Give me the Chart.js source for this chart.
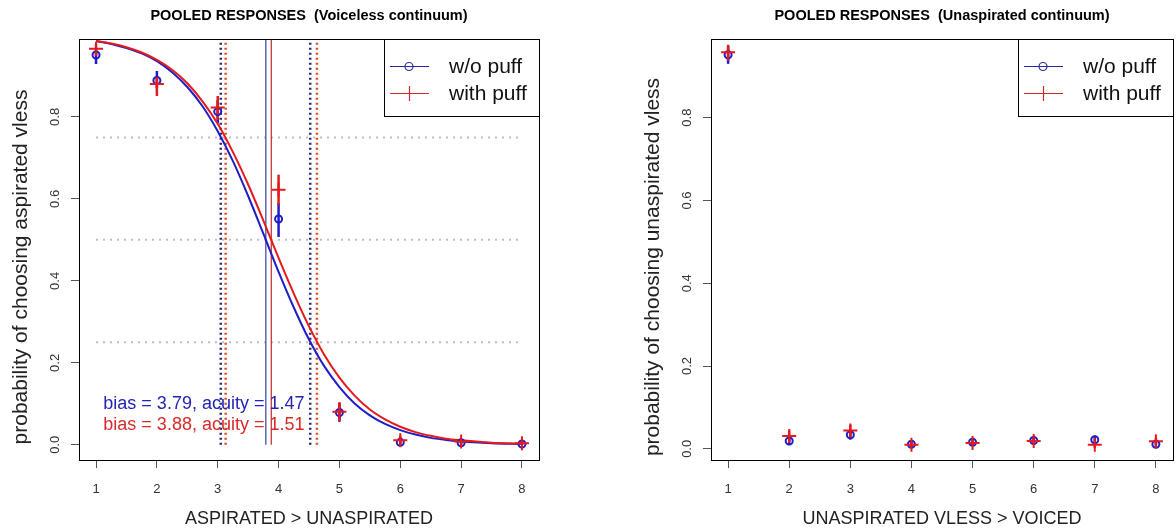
<!DOCTYPE html>
<html>
<head>
<meta charset="utf-8">
<script src="https://cdn.jsdelivr.net/npm/chart.js@4.4.1/dist/chart.umd.min.js"></script>
<style>
  html, body { margin: 0; padding: 0; background: #fff; overflow: hidden; }
  .panel { position: absolute; top: 0; height: 531px; overflow: hidden; }
  #p1 { left: 0; width: 588px; }
  #p2 { left: 588px; width: 588px; }
</style>
</head>
<body>
<div class="panel" id="p1"><canvas id="c1" width="588" height="531"></canvas></div>
<div class="panel" id="p2"><canvas id="c2" width="610" height="531"></canvas></div>
<script>
const STEPS = [1, 2, 3, 4, 5, 6, 7, 8]
const SERIES = ['w/o puff', 'with puff']

// left panel: voiceless continuum
const vlBlue = [0.951, 0.889, 0.813, 0.551, 0.079, 0.006, 0.005, 0.002]
const vlBlueLo = [0.929, 0.870, 0.785, 0.507, 0.056, 0.000, 0.000, 0.000]
const vlBlueHi = [0.968, 0.912, 0.841, 0.590, 0.102, 0.014, 0.011, 0.006]
const vlRed = [0.966, 0.880, 0.823, 0.622, 0.081, 0.011, 0.008, 0.004]
const vlRedLo = [0.949, 0.851, 0.793, 0.585, 0.058, 0.002, 0.002, 0.000]
const vlRedHi = [0.978, 0.895, 0.851, 0.659, 0.104, 0.022, 0.015, 0.010]

// fitted curves
const curveX = [1, 1.25, 1.5, 1.75, 2, 2.25, 2.5, 2.75, 3, 3.25, 3.5, 3.75, 4, 4.25, 4.5, 4.75, 5, 5.25, 5.5, 5.75, 6, 6.25, 6.5, 6.75, 7, 7.5, 8]
const curveBlue = [0.985, 0.978, 0.968, 0.955, 0.936, 0.909, 0.873, 0.826, 0.765, 0.692, 0.607, 0.515, 0.422, 0.335, 0.257, 0.192, 0.141, 0.101, 0.072, 0.051, 0.036, 0.025, 0.017, 0.012, 0.008, 0.004, 0.002]
const curveRed = [0.985, 0.979, 0.970, 0.957, 0.939, 0.915, 0.882, 0.838, 0.783, 0.714, 0.635, 0.547, 0.456, 0.369, 0.289, 0.220, 0.164, 0.120, 0.086, 0.062, 0.044, 0.031, 0.022, 0.015, 0.011, 0.005, 0.003]

const bias = [3.79, 3.88]
const acuity = [1.47, 1.51]
const cutsBlue = [3.05, 4.52]
const cutsRed = [3.13, 4.63]
const refLevels = [0.25, 0.5, 0.75]

// right panel: unaspirated continuum
const unBlue = [0.952, 0.019, 0.034, 0.011, 0.016, 0.020, 0.022, 0.011]
const unBlueLo = [0.930, 0.009, 0.022, 0.005, 0.009, 0.012, 0.012, 0.005]
const unBlueHi = [0.972, 0.029, 0.046, 0.017, 0.023, 0.028, 0.032, 0.017]
const unRed = [0.958, 0.031, 0.044, 0.010, 0.014, 0.019, 0.010, 0.018]
const unRedLo = [0.938, 0.018, 0.030, 0.004, 0.007, 0.011, 0.002, 0.010]
const unRedHi = [0.976, 0.044, 0.058, 0.016, 0.021, 0.027, 0.018, 0.026]

const Y_TICKS = [0, 0.2, 0.4, 0.6, 0.8]

const BLUE = '#1e1ec8'
const RED = '#e41a1c'
const FONT = 'Arial, "Liberation Sans", sans-serif'

const pts = (xs, ys) => xs.map((x, i) => ({ x, y: ys[i] }))

function vline(x, color, width, dash) {
	return { data: [{ x, y: 0 }, { x, y: 1.2 }], borderColor: color, borderWidth: width, borderDash: dash, pointRadius: 0, order: 5 }
}

const panelPlugin = {
	id: 'panel',
	beforeDatasetsDraw(chart) {
		const { ctx, scales: { x, y } } = chart
		const p = chart.options.plugins.panel
		ctx.save()
		ctx.lineWidth = 2.5
		p.bars.forEach(({ lo, hi, color }) => {
			ctx.strokeStyle = color
			STEPS.forEach((s, i) => {
				ctx.beginPath()
				ctx.moveTo(x.getPixelForValue(s), y.getPixelForValue(lo[i]))
				ctx.lineTo(x.getPixelForValue(s), y.getPixelForValue(hi[i]))
				ctx.stroke()
			})
		})
		ctx.restore()
	},
	afterDatasetsDraw(chart) {
		const { ctx, chartArea: a, scales: { x, y } } = chart
		const p = chart.options.plugins.panel
		ctx.save()
		// box
		ctx.strokeStyle = '#000'
		ctx.lineWidth = 1
		ctx.strokeRect(a.left + 0.5, a.top + 0.5, a.right - a.left, a.bottom - a.top)

		// annotations
		ctx.font = `18px ${FONT}`
		ctx.textBaseline = 'middle'
		ctx.textAlign = 'left'
		;(p.notes || []).forEach(n => {
			ctx.fillStyle = n.color
			ctx.fillText(n.text, x.getPixelForValue(n.x), y.getPixelForValue(n.y))
		})

		// legend
		const w = 155, h = 77
		const lx = a.right - w, ly = a.top
		ctx.fillStyle = '#fff'
		ctx.fillRect(lx, ly, w, h)
		ctx.strokeStyle = '#000'
		ctx.strokeRect(lx + 0.5, ly + 0.5, w, h)
		const legendCols = ['#2a2aa0', '#d02830']
		SERIES.forEach((name, i) => {
			const yy = ly + 27 + i * 27
			ctx.strokeStyle = legendCols[i]
			ctx.lineWidth = 1.2
			ctx.beginPath()
			ctx.moveTo(lx + 6, yy + 0.5)
			ctx.lineTo(lx + 45, yy + 0.5)
			ctx.stroke()
			ctx.beginPath()
			if (i === 0) {
				ctx.arc(lx + 25, yy + 0.5, 4, 0, Math.PI * 2)
			} else {
				ctx.moveTo(lx + 25.5, yy - 7)
				ctx.lineTo(lx + 25.5, yy + 8)
			}
			ctx.stroke()
			ctx.fillStyle = '#111'
			ctx.font = `21px ${FONT}`
			ctx.textBaseline = 'middle'
			ctx.fillText(name, lx + 65, yy + 1)
		})

		// title
		const cx = (a.left + a.right) / 2
		ctx.fillStyle = '#000'
		ctx.textAlign = 'center'
		ctx.font = `bold 14.5px ${FONT}`
		ctx.fillText(p.title, cx, 16)

		// axis titles
		ctx.fillStyle = '#222'
		ctx.font = `18px ${FONT}`
		ctx.fillText(p.xTitle, cx, 519)

		ctx.save()
		ctx.translate(a.left - 58, 267)
		ctx.rotate(-Math.PI / 2)
		ctx.font = `21px ${FONT}`
		ctx.fillText(p.yTitle, 0, 0)
		ctx.restore()

		// rotated y tick labels
		ctx.fillStyle = '#333'
		ctx.font = `13px ${FONT}`
		Y_TICKS.forEach(t => {
			ctx.save()
			ctx.translate(a.left - 24, y.getPixelForValue(t))
			ctx.rotate(-Math.PI / 2)
			ctx.fillText(t.toFixed(1), 0, 0)
			ctx.restore()
		})
		ctx.restore()
	}
}

function makePanel(id, cfg) {
	const datasets = [
		...cfg.extra,
		{ label: SERIES[0], data: pts(STEPS, cfg.blue), showLine: false, pointStyle: 'circle', pointRadius: 3.5, pointBorderWidth: 2, pointBorderColor: BLUE, pointBackgroundColor: 'rgba(0,0,0,0)', order: 1 },
		{ label: SERIES[1], data: pts(STEPS, cfg.red), showLine: false, pointStyle: 'cross', pointRadius: 7, pointBorderWidth: 2, pointBorderColor: RED, order: 0 }
	]
	const axisGrid = { display: true, drawOnChartArea: false, drawTicks: true, tickLength: 8, color: '#555' }
	return new Chart(document.getElementById(id), {
		type: 'line',
		data: { datasets },
		options: {
			responsive: false,
			animation: false,
			devicePixelRatio: 1,
			layout: { padding: { left: 0, right: cfg.padRight, top: 39, bottom: 0 } },
			scales: {
				x: {
					type: 'linear', min: 0.72, max: 8.28,
					border: { display: false },
					grid: axisGrid,
					ticks: { stepSize: 1, includeBounds: false, color: '#333', font: { size: 13, family: FONT }, padding: 14, maxRotation: 0 },
					afterFit: s => { s.height = 71 }
				},
				y: {
					type: 'linear', min: cfg.yMin, max: 0.99,
					border: { display: false },
					grid: axisGrid,
					ticks: { stepSize: 0.2, includeBounds: false, color: 'rgba(0,0,0,0)', font: { size: 13 } },
					afterFit: s => { s.width = cfg.yWidth }
				}
			},
			plugins: {
				legend: { display: false },
				tooltip: { enabled: false },
				panel: cfg.panel
			}
		},
		plugins: [panelPlugin]
	})
}

const leftExtra = [
	{ data: pts(curveX, curveBlue), borderColor: BLUE, borderWidth: 2, pointRadius: 0, cubicInterpolationMode: 'monotone', order: 3 },
	{ data: pts(curveX, curveRed), borderColor: RED, borderWidth: 2, pointRadius: 0, cubicInterpolationMode: 'monotone', order: 2 },
	...refLevels.map(v => ({ data: [{ x: 1, y: v }, { x: 8, y: v }], borderColor: '#bdbdbd', borderWidth: 2, borderDash: [2, 5], pointRadius: 0, order: 9 })),
	...cutsBlue.map(c => vline(c, '#26267a', 2.5, [2, 3])),
	...cutsRed.map(c => vline(c, '#d8502a', 2.5, [2, 3])),
	vline(bias[0], '#5868b0', 1.5, []),
	vline(bias[1], '#c02828', 1.2, [])
]

makePanel('c1', {
	blue: vlBlue, red: vlRed, extra: leftExtra,
	yMin: -0.037, yWidth: 79, padRight: 49,
	panel: {
		title: 'POOLED RESPONSES  (Voiceless continuum)',
		xTitle: 'ASPIRATED > UNASPIRATED',
		yTitle: 'probability of choosing aspirated vless',
		bars: [
			{ lo: vlBlueLo, hi: vlBlueHi, color: BLUE },
			{ lo: vlRedLo, hi: vlRedHi, color: RED }
		],
		notes: [
			{ text: `bias = ${bias[0].toFixed(2)}, acuity = ${acuity[0].toFixed(2)}`, x: 1.12, y: 0.1, color: '#2424b4' },
			{ text: `bias = ${bias[1].toFixed(2)}, acuity = ${acuity[1].toFixed(2)}`, x: 1.12, y: 0.049, color: '#d82a2a' }
		]
	}
})

// canvas is 610 wide inside a 588 wide panel: right edge of the plot box lands at 585
makePanel('c2', {
	blue: unBlue, red: unRed, extra: [],
	yMin: -0.027, yWidth: 123, padRight: 25,
	panel: {
		title: 'POOLED RESPONSES  (Unaspirated continuum)',
		xTitle: 'UNASPIRATED VLESS > VOICED',
		yTitle: 'probability of choosing unaspirated vless',
		bars: [
			{ lo: unBlueLo, hi: unBlueHi, color: BLUE },
			{ lo: unRedLo, hi: unRedHi, color: RED }
		],
		notes: []
	}
})
</script>
</body>
</html>
